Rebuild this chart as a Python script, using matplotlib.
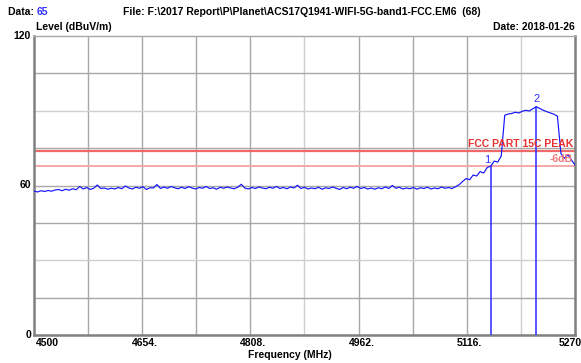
import numpy as np
import matplotlib
matplotlib.use("Agg")
import matplotlib.pyplot as plt

# ---- data ----
sweep_start, sweep_stop, sweep_step = 4500, 5270, 5
level = [
    57.8, 57.4, 57.9, 57.6, 58.0, 57.7, 58.2, 58.4, 57.9, 58.5,
    58.1, 58.7, 58.3, 59.6, 58.6, 59.2, 58.4, 58.9, 60.2, 58.8,
    59.0, 58.5, 58.9, 58.6, 59.2, 58.7, 59.8, 59.0, 58.6, 59.3,
    58.9, 59.5, 58.4, 59.1, 59.0, 60.4, 58.8, 59.4, 58.9, 59.6,
    59.1, 58.7, 59.3, 58.8, 59.5, 59.0, 58.6, 59.2, 58.9, 59.6,
    58.8, 59.1, 58.5, 59.3, 58.9, 59.4, 59.0, 58.7, 59.3, 60.5,
    59.0, 58.6, 59.2, 58.8, 59.4, 59.0, 58.7, 59.3, 58.9, 59.6,
    58.8, 59.2, 58.7, 59.4, 59.0, 60.1, 58.8, 59.3, 58.6, 59.0,
    58.7, 59.3, 58.5, 59.1, 58.8, 59.4, 58.9, 58.4, 59.2, 58.7,
    59.3, 58.9, 59.6, 58.8, 59.2, 58.6, 59.0, 58.5, 59.1, 58.7,
    59.4, 58.8, 60.0, 58.9, 59.3, 58.6, 59.0, 58.7, 59.2, 58.5,
    59.1, 58.8, 59.3, 58.6, 59.0, 58.7, 59.4, 58.9, 59.2, 58.8,
    59.5, 60.3, 61.6, 62.8, 62.3, 64.2, 63.8, 65.6, 65.0, 67.2,
    67.8, 69.8, 69.4, 71.8, 88.2, 88.7, 88.9, 89.4, 89.1, 89.8,
    90.2, 89.9, 90.8, 91.6, 90.9, 90.2, 89.6, 89.1, 88.6, 87.8,
    72.8, 70.9, 72.4, 70.2, 68.3,
]
freq = np.arange(sweep_start, sweep_stop + 1, sweep_step)

marker_freq = [5150, 5215]
marker_level = [67.8, 91.6]
marker_label = ["1", "2"]

limit_levels = [74, 68]
limit_labels = ["FCC PART 15C PEAK", "-6dB"]
limit_colors = ["#f06868", "#f5a8a8"]
limit_text_colors = ["#e83030", "#f07878"]

xtick_vals = [4500, 4654, 4808, 4962, 5116, 5270]
xtick_text = ["4500", "4654.", "4808.", "4962.", "5116.", "5270"]
ytick_vals = [0, 60, 120]
ytick_text = ["0", "60", "120"]

header_data = "65"
header_file = r"File: F:\2017 Report\P\Planet\ACS17Q1941-WIFI-5G-band1-FCC.EM6  (68)"
header_date = "Date: 2018-01-26"
ylabel = "Level (dBuV/m)"
xlabel = "Frequency (MHz)"

# ---- figure ----
W, H = 581, 363
fig = plt.figure(figsize=(W / 100, H / 100), dpi=100)
fig.patch.set_facecolor("white")
L, R, T, B = 34, 575, 36, 335
ax = fig.add_axes([L / W, (H - B) / H, (R - L) / W, (B - T) / H])
ax.set_xlim(sweep_start, sweep_stop)
ax.set_ylim(0, 120)

FONT = "Liberation Sans"
fs = 7.5

# grid
xdiv = np.linspace(sweep_start, sweep_stop, 11)[1:-1]
for i, xv in enumerate(xdiv, start=1):
    c = "#d0d0d0" if i in (5, 9) else "#a8a8a8"
    ax.axvline(xv, color=c, lw=1.0, zorder=1)
for i, yv in enumerate(np.arange(15, 120, 15)):
    c = "#d0d0d0" if yv in (30, 90) else "#a8a8a8"
    ax.axhline(yv, color=c, lw=1.0, zorder=1)

# limit lines
for lv, lab, c, tc in zip(limit_levels, limit_labels, limit_colors, limit_text_colors):
    ax.axhline(lv, color=c, lw=1.6 if lv == limit_levels[0] else 1.4, zorder=2)
    ax.text(sweep_stop - 3, lv + 0.8, lab, color=tc, fontsize=fs, fontweight="bold",
            family=FONT, ha="right", va="bottom", zorder=4)

# trace
ax.plot(freq, level, color="#1414ff", lw=0.85, zorder=3)

# markers
for mf, ml, mt in zip(marker_freq, marker_level, marker_label):
    ax.plot([mf, mf], [0, ml], color="#2a2aff", lw=1.1, zorder=3)
    if mt == "1":
        ax.text(mf - 1, ml + 0.6, mt, color="#3030ff", fontsize=fs + 0.5, family=FONT,
                ha="right", va="bottom", zorder=4)
    else:
        ax.text(mf, ml + 1.2, mt, color="#3030ff", fontsize=fs + 0.5, family=FONT,
                ha="center", va="bottom", zorder=4)

# frame
for side in ["left", "bottom", "right"]:
    ax.spines[side].set_color("#808080")
    ax.spines[side].set_linewidth(1.8)
ax.spines["top"].set_color("#a8a8a8")
ax.spines["top"].set_linewidth(1.0)

ax.set_xticks([])
ax.set_yticks([])

# y tick labels
for yv, yt in zip(ytick_vals, ytick_text):
    fig.text((L - 3) / W, (H - (B - yv / 120 * (B - T))) / H, yt, fontsize=fs,
             fontweight="bold", family=FONT, ha="right", va="center")

# x tick labels
for xv, xt in zip(xtick_vals, xtick_text):
    px = L + (xv - sweep_start) / (sweep_stop - sweep_start) * (R - L)
    if xv == sweep_start:
        px, ha = px + 2, "left"
    elif xv == sweep_stop:
        px, ha = W + 1, "right"
    else:
        px, ha = px + 3, "center"
    fig.text(px / W, (H - 343) / H, xt, fontsize=fs, fontweight="bold",
             family=FONT, ha=ha, va="center")

fig.text(290 / W, (H - 355) / H, xlabel, fontsize=fs, fontweight="bold",
         family=FONT, ha="center", va="center")

# header
t1 = fig.text(8 / W, (H - 12) / H, "Data: ", fontsize=fs, fontweight="bold",
              family=FONT, ha="left", va="center")
fig.canvas.draw()
bb = t1.get_window_extent()
fig.text(bb.x1 / W, (H - 12) / H, header_data, fontsize=fs, fontweight="bold",
         family=FONT, ha="left", va="center", color="#3030ff")
fig.text(123 / W, (H - 12) / H, header_file, fontsize=fs, fontweight="bold",
         family=FONT, ha="left", va="center")
fig.text(36 / W, (H - 27) / H, ylabel, fontsize=fs, fontweight="bold",
         family=FONT, ha="left", va="center")
fig.text(575 / W, (H - 27) / H, header_date, fontsize=fs, fontweight="bold",
         family=FONT, ha="right", va="center")

fig.savefig("out.png", dpi=100)
